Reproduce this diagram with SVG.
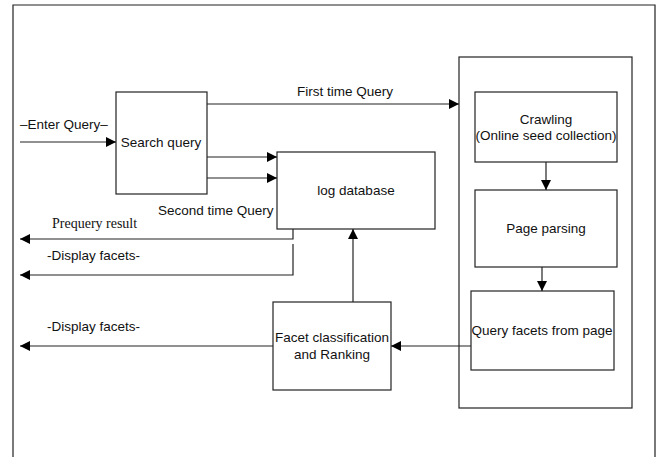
<svg xmlns="http://www.w3.org/2000/svg" width="660" height="457" viewBox="0 0 660 457">
<style>
.box{fill:#fff;stroke:#222;stroke-width:1.2}
.ln{fill:none;stroke:#222;stroke-width:1.2}
.t{font-family:"Liberation Sans",Arial,sans-serif;font-size:13.5px;fill:#111}
.s{font-family:"Liberation Serif","Times New Roman",serif;font-size:14px;fill:#111}
</style>
<defs>
<marker id="ah" viewBox="0 0 10 10" refX="10" refY="5" markerWidth="10" markerHeight="10" markerUnits="userSpaceOnUse" orient="auto">
<path d="M0,0 L10,5 L0,10 z" fill="#000"/>
</marker>
</defs>
<rect width="660" height="457" fill="#fff"/>
<path class="ln" d="M13,460 V5 H655 V460"/>
<g id="container"><rect class="box" x="459" y="57" width="173" height="351"/></g>
<g id="search"><rect class="box" x="116" y="92" width="91" height="102"/><text class="t" x="161" y="147" text-anchor="middle">Search query</text></g>
<g id="logdb"><rect class="box" x="277" y="152" width="158" height="77"/><text class="t" x="356" y="195" text-anchor="middle">log database</text></g>
<g id="crawl"><rect class="box" x="475" y="92" width="142" height="70"/><text class="t" x="546" y="124" text-anchor="middle">Crawling</text><text class="t" x="546" y="140" text-anchor="middle">(Online seed collection)</text></g>
<g id="parse"><rect class="box" x="475" y="190" width="142" height="77"/><text class="t" x="546" y="233" text-anchor="middle">Page parsing</text></g>
<g id="qf"><rect class="box" x="471" y="291" width="143" height="79"/><text class="t" x="542" y="335" text-anchor="middle">Query facets from page</text></g>
<g id="facet"><rect class="box" x="273" y="302" width="118" height="88"/><text class="t" x="332" y="342" text-anchor="middle">Facet classification</text><text class="t" x="332" y="359" text-anchor="middle">and Ranking</text></g>
<g id="connectors">
<path class="ln" d="M20,142 H116" marker-end="url(#ah)"/>
<path class="ln" d="M207,104 H459" marker-end="url(#ah)"/>
<path class="ln" d="M207,157 H277" marker-end="url(#ah)"/>
<path class="ln" d="M207,178 H277" marker-end="url(#ah)"/>
<path class="ln" d="M293,229 V239 H20" marker-end="url(#ah)"/>
<path class="ln" d="M293,244 V275 H20" marker-end="url(#ah)"/>
<path class="ln" d="M546,162 V190" marker-end="url(#ah)"/>
<path class="ln" d="M542,267 V291" marker-end="url(#ah)"/>
<path class="ln" d="M471,346 H391" marker-end="url(#ah)"/>
<path class="ln" d="M353,302 V229" marker-end="url(#ah)"/>
<path class="ln" d="M273,346 H20" marker-end="url(#ah)"/>
</g>
<g id="labels">
<text class="t" x="20" y="129">–Enter Query–</text>
<text class="t" x="297" y="96">First time Query</text>
<text class="t" x="158" y="215">Second time Query</text>
<text class="s" x="52" y="228">Prequery result</text>
<text class="t" x="47" y="260">-Display facets-</text>
<text class="t" x="47" y="331">-Display facets-</text>
</g>
</svg>
